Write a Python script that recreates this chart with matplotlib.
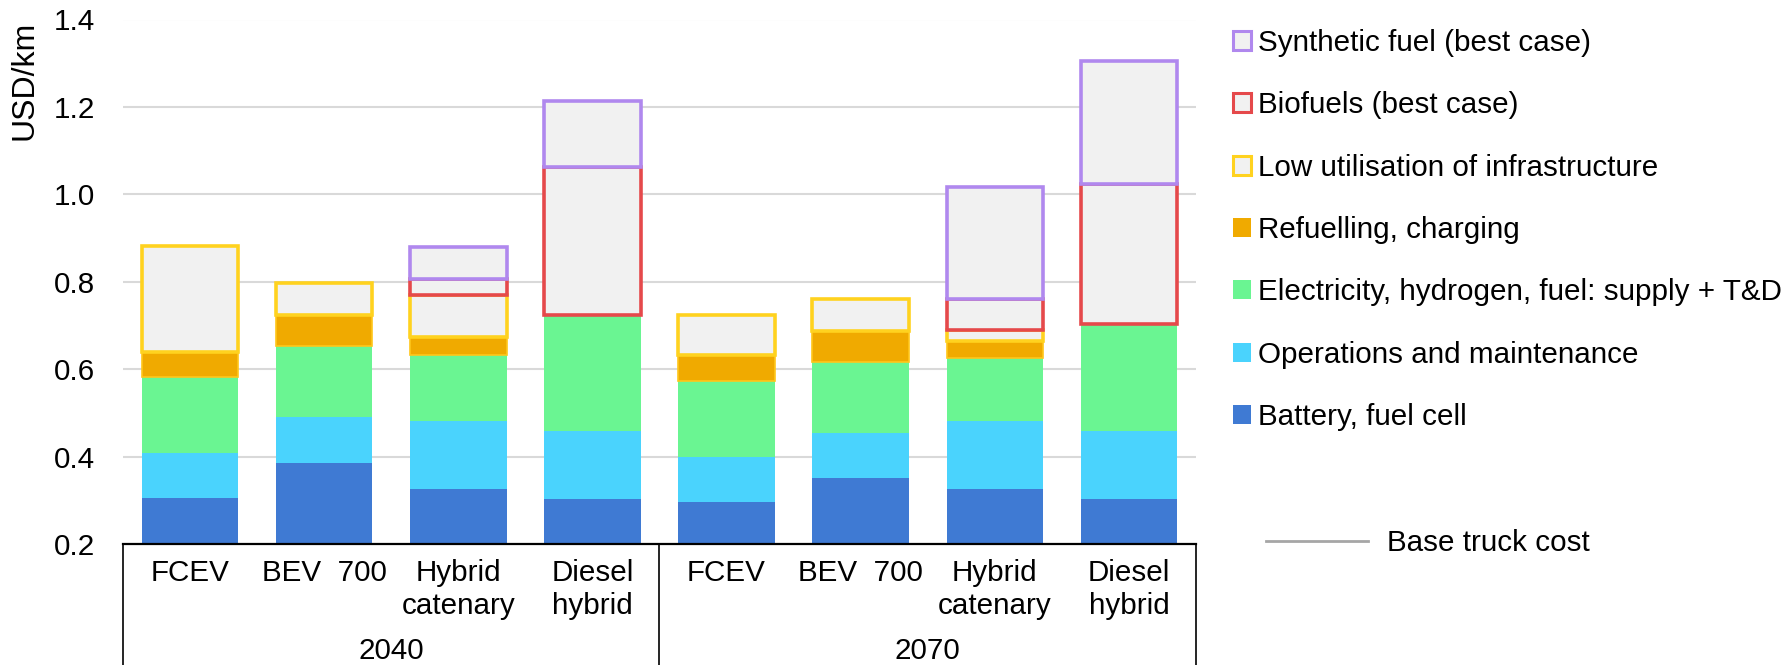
import numpy as np
import matplotlib
matplotlib.use("Agg")
import matplotlib.pyplot as plt
import matplotlib.transforms as mtransforms
from matplotlib.patches import Patch
from matplotlib.lines import Line2D

plt.rcParams['font.family'] = ['Liberation Sans', 'DejaVu Sans']

# ---------- Data ----------
vehicles = ["FCEV", "BEV  700", "Hybrid\ncatenary", "Diesel\nhybrid",
            "FCEV", "BEV  700", "Hybrid\ncatenary", "Diesel\nhybrid"]
years = ["2040", "2070"]

# visible part of each segment (axis starts at 0.2 USD/km)
battery = [0.105, 0.186, 0.126, 0.103, 0.096, 0.150, 0.125, 0.104]
operations = [0.103, 0.104, 0.155, 0.156, 0.104, 0.104, 0.156, 0.155]
energy = [0.173, 0.162, 0.151, 0.265, 0.172, 0.162, 0.144, 0.244]
refuelling = [0.059, 0.072, 0.041, 0.0, 0.060, 0.071, 0.039, 0.0]
low_util = [0.241, 0.073, 0.096, 0.0, 0.092, 0.074, 0.026, 0.0]
biofuels = [0.0, 0.0, 0.037, 0.338, 0.0, 0.0, 0.071, 0.320]
synthetic = [0.0, 0.0, 0.074, 0.152, 0.0, 0.0, 0.256, 0.283]

filled = [
    ("Battery, fuel cell", battery, "#3F7AD3", "none"),
    ("Operations and maintenance", operations, "#4AD3FD", "none"),
    ("Electricity, hydrogen, fuel: supply + T&D", energy, "#6AF592", "none"),
    ("Refuelling, charging", refuelling, "#F0AA00", "#FFC61A"),
]
outlined = [
    ("Low utilisation of infrastructure", low_util, "#FFD21F"),
    ("Biofuels (best case)", biofuels, "#E5494B"),
    ("Synthetic fuel (best case)", synthetic, "#B088EE"),
]

FS = 21.3
BOX_FILL = "#F1F1F1"

fig = plt.figure(figsize=(17.9, 6.65), dpi=100)
ax = fig.add_axes([123 / 1790, 121 / 665, (1196 - 123) / 1790, (544 - 19.5) / 665])

x = np.arange(len(vehicles))
width = 0.72
bottom = np.full(len(vehicles), 0.2)

for label, vals, color, edge in filled:
    vals = np.array(vals)
    lw = 1.2 if edge != "none" else 0
    for i in range(len(x)):
        if vals[i] > 0:
            ax.bar(x[i], vals[i], width, bottom=bottom[i], color=color,
                   edgecolor=edge, linewidth=lw, zorder=2)
    bottom += vals

for label, vals, color in outlined:
    vals = np.array(vals)
    for i in range(len(x)):
        if vals[i] > 0:
            ax.bar(x[i], vals[i], width, bottom=bottom[i], facecolor=BOX_FILL,
                   edgecolor=color, linewidth=2.6, zorder=3)
    bottom += vals

# ---------- Axes styling ----------
ax.set_xlim(-0.5, len(x) - 0.5)
ax.set_ylim(0.2, 1.4)
ax.set_yticks(np.arange(0.2, 1.41, 0.2))
ax.yaxis.set_major_formatter(matplotlib.ticker.FormatStrFormatter('%.1f'))
ax.tick_params(axis='y', length=0, pad=20, labelsize=FS)
ax.set_xticks([])
ax.yaxis.grid(True, color='#D9D9D9', linewidth=1.5)
ax.set_axisbelow(True)
for s in ['top', 'right', 'left']:
    ax.spines[s].set_visible(False)
ax.spines['bottom'].set_linewidth(1.6)
ax.spines['bottom'].set_color('black')
ax.spines['bottom'].set_zorder(4)

fig.text(25 / 1790, 1 - 80 / 665, "USD/km", rotation=90, ha='center', va='center', fontsize=23)

# ---------- Category axis ----------
trans = mtransforms.blended_transform_factory(ax.transData, ax.transAxes)
for i, name in enumerate(vehicles):
    ax.text(x[i], -0.028, name, transform=trans, ha='center', va='top',
            fontsize=FS, linespacing=1.24)
for j, yr in enumerate(years):
    ax.text(j * 4 + 1.5, -0.204, yr, transform=trans, ha='center', va='center', fontsize=FS)
for xv in [-0.5, 3.5, 7.5]:
    ax.plot([xv, xv], [0, -0.3], transform=trans, color='black', linewidth=1.2, clip_on=False)

# ---------- Legend ----------
handles = []
for label, vals, color in outlined[::-1]:
    handles.append(Patch(facecolor=BOX_FILL, edgecolor=color, linewidth=2.2, label=label))
for label, vals, color, edge in filled[::-1]:
    handles.append(Patch(facecolor=color, edgecolor='none', label=label))
leg = fig.legend(handles=handles, loc='upper left', bbox_to_anchor=(1233 / 1790, 1 - 29 / 665),
                 frameon=False, fontsize=FS, handlelength=0.6, handleheight=0.6,
                 handletextpad=0.25, labelspacing=1.16, borderpad=0, borderaxespad=0)

base = Line2D([], [], color='#A6A6A6', linewidth=2, label="Base truck cost")
leg2 = fig.legend(handles=[base], loc='center left', bbox_to_anchor=(1266 / 1790, 1 - 543 / 665),
                  frameon=False, fontsize=FS, handlelength=3.45, handletextpad=0.63,
                  borderpad=0, borderaxespad=0)

fig.savefig("out.png", dpi=100)
